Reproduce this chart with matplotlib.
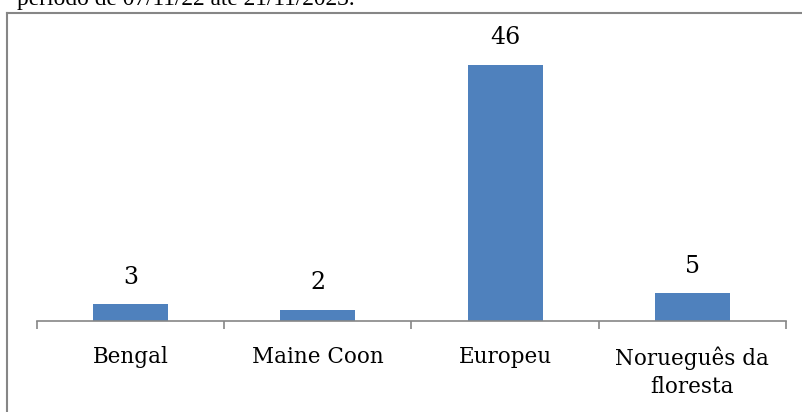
import matplotlib
matplotlib.use("Agg")
import matplotlib.pyplot as plt
from matplotlib.lines import Line2D

categories = ["Bengal", "Maine Coon", "Europeu", "Norueguês da\nfloresta"]
counts = [3, 2, 46, 5]

W, H, DPI = 803, 412, 100
fig = plt.figure(figsize=(W / DPI, H / DPI), dpi=DPI)
fig.patch.set_facecolor("white")

# caption line above the chart frame (partly outside the canvas)
fig.text(17 / W, 1 - 4.5 / H, "período de 07/11/22 até 21/11/2023.",
         family="Liberation Serif", fontsize=16.8, va="baseline", ha="left",
         color="black")

# chart frame
grey = "#868686"
fig.add_artist(Line2D([7.5 / W, 7.5 / W], [0, 1 - 13 / H], transform=fig.transFigure,
                      color=grey, lw=1.5))
fig.add_artist(Line2D([7.5 / W, 1.0], [1 - 13 / H, 1 - 13 / H], transform=fig.transFigure,
                      color=grey, lw=1.5))

# plot area
left, right, base, top = 37, 786, 321, 45
ax = fig.add_axes([left / W, (H - base) / H, (right - left) / W, (base - top) / H])
ax.set_xlim(-0.5, len(categories) - 0.5)
ax.set_ylim(0, 49.6)

x = list(range(len(categories)))
bars = ax.bar(x, counts, width=0.4, color="#4F81BD", zorder=2)

for xi, v in zip(x, counts):
    ax.annotate(str(v), (xi, v), xytext=(0, 19.5), textcoords="offset points",
                ha="center", va="center", family="DejaVu Serif", fontsize=17)

for s in ["top", "right", "left"]:
    ax.spines[s].set_visible(False)
ax.spines["bottom"].set_color(grey)
ax.spines["bottom"].set_linewidth(1.2)
ax.set_yticks([])

ax.set_xticks([i - 0.5 for i in range(len(categories) + 1)])
ax.set_xticklabels([])
ax.tick_params(axis="x", which="major", direction="out", length=6, width=1.2, color=grey)
ax.set_xticks(x, minor=True)
ax.set_xticklabels(categories, minor=True, family="DejaVu Serif", fontsize=15.5,
                   linespacing=1.4)
ax.tick_params(axis="x", which="minor", length=0, pad=18)

fig.savefig("out.png", dpi=DPI)
